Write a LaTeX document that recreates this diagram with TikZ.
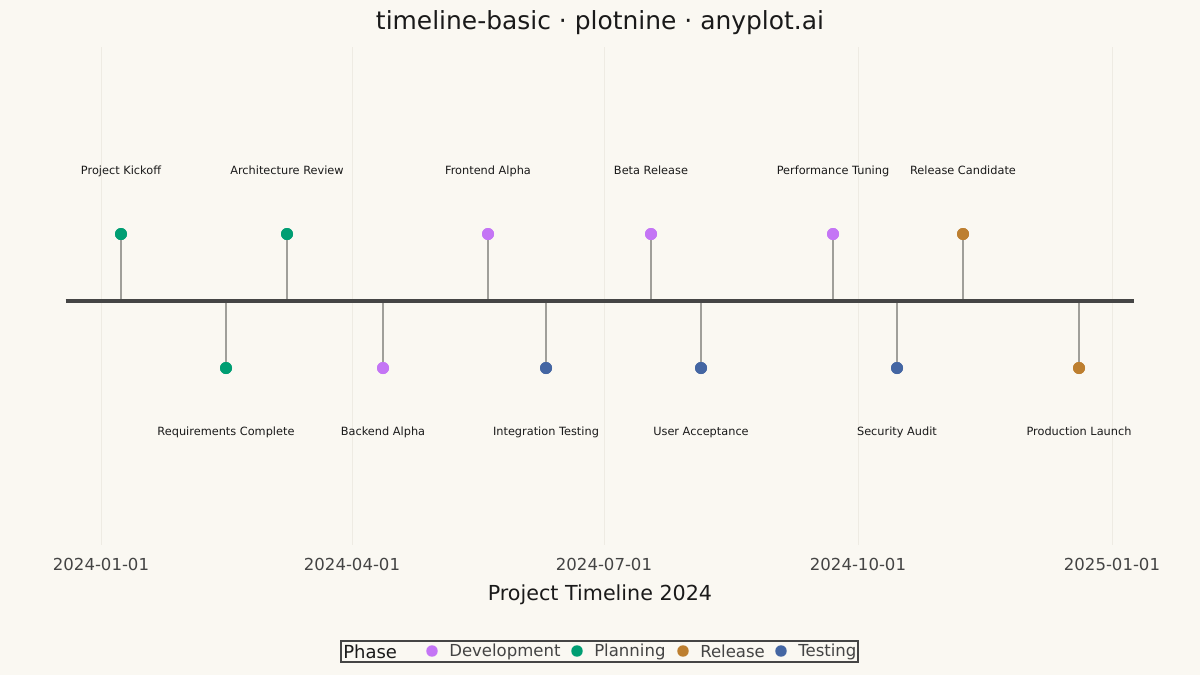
\documentclass[tikz,border=0pt]{standalone}
\usepackage{fontspec}
\setmainfont{DejaVu Sans}
\definecolor{bg}{HTML}{FAF8F2}
\definecolor{cdev}{HTML}{C475F5}
\definecolor{cplan}{HTML}{009E73}
\definecolor{crel}{HTML}{BD7F30}
\definecolor{ctest}{HTML}{4466A3}
\definecolor{axisc}{HTML}{454545}
\definecolor{stemc}{HTML}{A09F9A}
\definecolor{gridc}{HTML}{EEEBE3}
\definecolor{txt}{HTML}{1A1A1A}
\definecolor{tick}{HTML}{444444}
\begin{document}
\begin{tikzpicture}[x=0.75pt,y=-0.75pt,
  evlabel/.style={font=\fontsize{8.5}{10}\selectfont,text=txt,inner sep=0pt,anchor=base},
  ticklabel/.style={font=\fontsize{12.4}{14}\selectfont,text=tick,inner sep=0pt},
  dot/.style={circle,inner sep=0pt,minimum size=9pt},
  stem/.style={stemc,line width=1.1pt},
  leglabel/.style={font=\fontsize{12.4}{14}\selectfont,text=tick,inner sep=0pt,anchor=west}]
\fill[bg] (0,0) rectangle (1200,675);
\useasboundingbox (0,0) rectangle (1200,675);
% grid
\foreach \gx in {101,352,604,858,1112}{\draw[gridc,line width=0.6pt] (\gx,47) -- (\gx,545);}
% title
\node[font=\fontsize{18.7}{21}\selectfont,text=txt] (title) at (600,23) {timeline-basic · plotnine · anyplot.ai};
% axis
\coordinate (axL) at (65.5,301);
\coordinate (axR) at (1134,301);
% events
\foreach \n/\x/\s/\c/\t in {
 e1/121/-1/cplan/Project Kickoff,
 e2/226/1/cplan/Requirements Complete,
 e3/287/-1/cplan/Architecture Review,
 e4/383/1/cdev/Backend Alpha,
 e5/488/-1/cdev/Frontend Alpha,
 e6/546/1/ctest/Integration Testing,
 e7/651/-1/cdev/Beta Release,
 e8/701/1/ctest/User Acceptance,
 e9/833/-1/cdev/Performance Tuning,
 e10/897/1/ctest/Security Audit,
 e11/963/-1/crel/Release Candidate,
 e12/1079/1/crel/Production Launch}{
  \coordinate (\n base) at (\x,301);
  \node[dot,fill=\c] (\n dot) at (\x,301+67*\s) {};
  \draw[stem] (\n base) -- (\n dot.center);
  \fill[\c] (\n dot.center) circle (4.5pt);
  \node[evlabel] (\n lab) at (\x,305+130.5*\s) {\t};
}
\draw[axisc,line width=2.6pt] (axL) -- (axR);
% ticks
\foreach \n/\gx/\t in {t1/101/2024-01-01,t2/352/2024-04-01,t3/604/2024-07-01,t4/858/2024-10-01,t5/1112/2025-01-01}{
  \node[ticklabel] (\n) at (\gx,564) {\t};
}
\node[font=\fontsize{15.5}{18}\selectfont,text=txt] (xtitle) at (600,595) {Project Timeline 2024};
% legend
\draw[axisc,line width=0.8pt] (341,641) rectangle (858,662);
\node[font=\fontsize{13.5}{15}\selectfont,text=txt,inner sep=0pt,anchor=west] (phase) at (343,651.5) {Phase};
\foreach \n/\lx/\c/\t in {l1/432/cdev/Development,l2/577/cplan/Planning,l3/683/crel/Release,l4/781/ctest/Testing}{
  \fill[\c] (\lx,651) circle (4.3pt);
  \node[leglabel] (\n) at (\lx+17,651.5) {\t};
}
\end{tikzpicture}
\end{document}
